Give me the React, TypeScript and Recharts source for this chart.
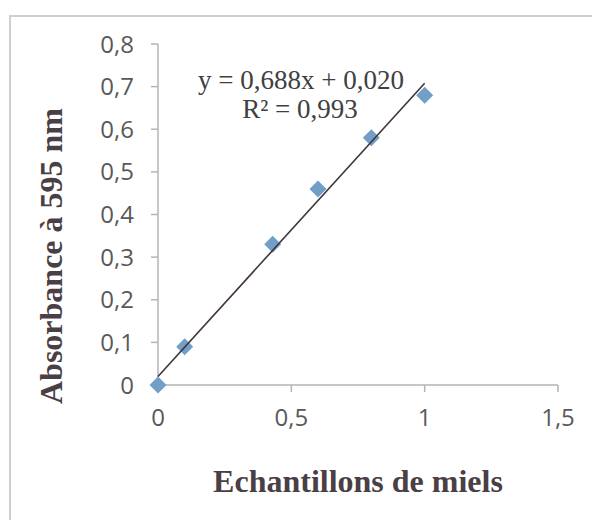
import React from 'react';
import { ScatterChart, Scatter, XAxis, YAxis, Customized } from 'recharts';

// Honey samples vs. absorbance at 595 nm
const sampleX = [0, 0.1, 0.43, 0.6, 0.8, 1];
const absorbance = [0, 0.09, 0.33, 0.46, 0.58, 0.68];
const xTicks = [0, 0.5, 1, 1.5];
const yTicks = [0, 0.1, 0.2, 0.3, 0.4, 0.5, 0.6, 0.7, 0.8];

// Linear trendline parameters
const slope = 0.688;
const intercept = 0.02;
const rSquared = 0.993;
const trendRange = [0, 1];

const points = sampleX.map((x, i) => ({ x, y: absorbance[i] }));
const trend = trendRange.map((x) => ({ x, y: slope * x + intercept }));

const fmt = (v: number) => String(v).replace('.', ',');

const TICK_FONT = '"Open Sans", sans-serif';
const TITLE_FONT = '"Liberation Serif", "Times New Roman", serif';

const XTick = (props: any) => {
  const { x, y, payload } = props;
  return (
    <text x={x} y={y} dy={34} textAnchor="middle" fontFamily={TICK_FONT} fontSize={24} fill="#595959">
      {fmt(payload.value)}
    </text>
  );
};

const YTick = (props: any) => {
  const { x, y, payload } = props;
  return (
    <text x={x} y={y} dy={8.5} textAnchor="end" fontFamily={TICK_FONT} fontSize={24} fill="#595959">
      {fmt(payload.value)}
    </text>
  );
};

const Diamond = (props: any) => {
  const { cx, cy } = props;
  const r = 8.5;
  return (
    <path
      d={`M${cx},${cy - r} L${cx + r},${cy} L${cx},${cy + r} L${cx - r},${cy} Z`}
      fill="#729fc8"
    />
  );
};

const NoDot = () => null;

const Annotations = () => (
  <g>
    <text x={301} y={89} textAnchor="middle" fontFamily={TITLE_FONT} fontSize={27} fill="#404040">
      {`y = ${fmt(slope)}x + ${intercept.toFixed(3).replace('.', ',')}`}
    </text>
    <text x={300} y={118} textAnchor="middle" fontFamily={TITLE_FONT} fontSize={27} fill="#404040">
      {`R² = ${fmt(rSquared)}`}
    </text>
    <text
      x={0}
      y={0}
      transform="translate(62,256) rotate(-90)"
      textAnchor="middle"
      fontFamily={TITLE_FONT}
      fontWeight="bold"
      fontSize={32}
      fill="#4a3f44"
    >
      Absorbance à 595 nm
    </text>
    <text x={358} y={492} textAnchor="middle" fontFamily={TITLE_FONT} fontWeight="bold" fontSize={32} fill="#4a3f44">
      Echantillons de miels
    </text>
  </g>
);

export default function App() {
  return (
    <div style={{ position: 'relative', margin: -8, width: 600, height: 528, background: '#fff', overflow: 'hidden' }}>
      <div
        style={{
          position: 'absolute',
          left: 9,
          top: 15,
          width: 586,
          height: 520,
          borderTop: '2px solid #cfcfcf',
          borderLeft: '2px solid #cfcfcf',
          borderRight: '2px solid #dcdcdc',
        }}
      />
      <div style={{ position: 'absolute', left: 0, top: 0 }}>
        <ScatterChart width={600} height={528} margin={{ top: 44, right: 42, left: 0, bottom: 0 }}>
          <XAxis
            type="number"
            dataKey="x"
            domain={[0, 1.5]}
            ticks={xTicks}
            interval={0}
            height={143}
            tickSize={7}
            tickMargin={0}
            axisLine={{ stroke: '#b5b5b5', strokeWidth: 1.5 }}
            tickLine={{ stroke: '#b5b5b5', strokeWidth: 1.5 }}
            tick={<XTick />}
          />
          <YAxis
            type="number"
            dataKey="y"
            domain={[0, 0.8]}
            ticks={yTicks}
            interval={0}
            width={158}
            tickSize={7}
            tickMargin={17}
            axisLine={{ stroke: '#b5b5b5', strokeWidth: 1.5 }}
            tickLine={{ stroke: '#b5b5b5', strokeWidth: 1.5 }}
            tick={<YTick />}
          />
          <Scatter data={points} shape={<Diamond />} isAnimationActive={false} />
          <Scatter
            data={trend}
            line={{ stroke: '#3f3439', strokeWidth: 1.6 }}
            shape={<NoDot />}
            isAnimationActive={false}
          />
          <Customized component={Annotations} />
        </ScatterChart>
      </div>
    </div>
  );
}
